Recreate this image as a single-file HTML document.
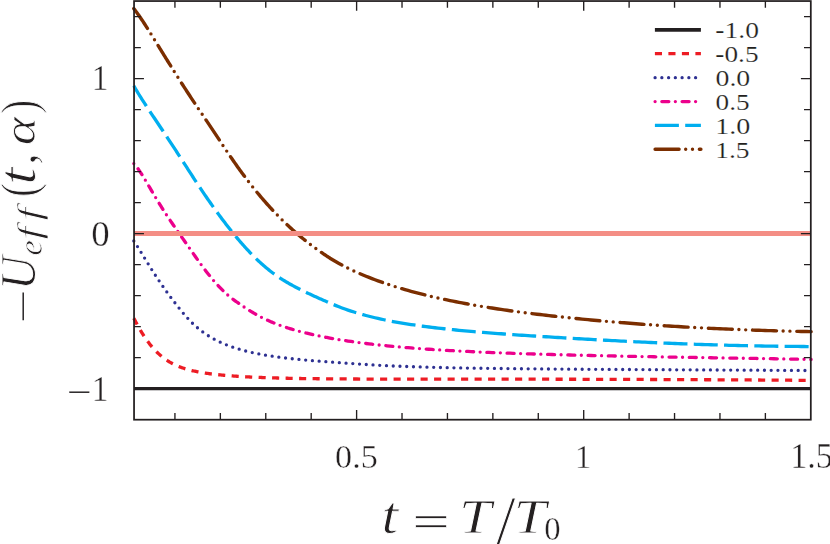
<!DOCTYPE html>
<html lang="en"><head><meta charset="utf-8"><title>U_eff(t, alpha) plot</title>
<style>
html,body{margin:0;padding:0;background:#fff;}
body{width:830px;height:544px;overflow:hidden;}
svg{display:block;}
text{font-family:"Liberation Serif","DejaVu Serif",serif;fill:#231f20;}
.it{font-style:italic;}
</style></head><body>
<svg width="830" height="544" viewBox="0 0 830 544">
<rect x="0" y="0" width="830" height="544" fill="#fff"/>
<defs><clipPath id="plot"><rect x="131.05" y="1.05" width="682.75" height="418.65"/></clipPath></defs>
<g clip-path="url(#plot)" fill="none" stroke-linejoin="round">
<line x1="134.05" y1="388.6" x2="810.8" y2="388.6" stroke="#231f20" stroke-width="3.3"/>
<path d="M133.8 318.15 L134.8 320.10 L135.8 322.01 L136.8 323.89 L137.8 325.71 L138.8 327.50 L139.8 329.24 L140.8 330.93 L141.8 332.58 L142.8 334.19 L143.8 335.74 L144.8 337.26 L145.8 338.72 L146.8 340.14 L147.8 341.52 L148.8 342.85 L149.8 344.14 L150.8 345.38 L151.8 346.59 L152.8 347.75 L153.8 348.87 L154.8 349.95 L155.8 350.99 L156.8 352.00 L157.8 352.97 L158.8 353.90 L159.8 354.81 L160.8 355.67 L161.8 356.51 L162.8 357.31 L163.8 358.08 L164.8 358.82 L165.8 359.54 L166.8 360.22 L167.8 360.88 L168.8 361.50 L169.8 362.11 L170.8 362.68 L171.8 363.23 L172.8 363.76 L173.8 364.27 L174.8 364.75 L175.8 365.21 L176.8 365.66 L177.8 366.09 L178.8 366.49 L179.8 366.89 L180.8 367.26 L181.8 367.63 L182.8 367.97 L183.8 368.31 L184.8 368.63 L185.8 368.93 L186.8 369.23 L187.8 369.51 L188.8 369.79 L189.8 370.05 L190.8 370.31 L191.8 370.55 L192.8 370.79 L193.8 371.01 L194.8 371.23 L195.8 371.44 L196.8 371.64 L197.8 371.84 L198.8 372.03 L199.8 372.21 L200.8 372.39 L201.8 372.56 L202.8 372.72 L203.8 372.88 L204.8 373.04 L205.8 373.19 L206.8 373.33 L207.8 373.47 L208.8 373.61 L209.8 373.74 L210.8 373.86 L211.8 373.99 L212.8 374.11 L213.8 374.23 L214.8 374.34 L215.8 374.45 L216.8 374.56 L217.8 374.66 L218.8 374.76 L219.8 374.86 L220.8 374.96 L221.8 375.05 L222.8 375.15 L223.8 375.24 L224.8 375.33 L225.8 375.41 L226.8 375.50 L227.8 375.58 L228.8 375.66 L229.8 375.74 L230.8 375.81 L231.8 375.89 L232.8 375.96 L233.8 376.03 L234.8 376.10 L235.8 376.17 L236.8 376.24 L237.8 376.31 L238.8 376.37 L239.8 376.43 L240.8 376.49 L241.8 376.55 L242.8 376.61 L243.8 376.67 L244.8 376.73 L245.8 376.78 L246.8 376.83 L247.8 376.89 L248.8 376.94 L249.8 376.99 L250.8 377.04 L251.8 377.08 L252.8 377.13 L253.8 377.18 L254.8 377.22 L255.8 377.27 L256.8 377.31 L257.8 377.35 L258.8 377.39 L259.8 377.43 L260.8 377.47 L261.8 377.51 L262.8 377.55 L263.8 377.58 L264.8 377.62 L265.8 377.66 L266.8 377.69 L267.8 377.72 L268.8 377.76 L269.8 377.79 L270.8 377.82 L271.8 377.85 L272.8 377.88 L273.8 377.91 L274.8 377.94 L275.8 377.97 L276.8 378.00 L277.8 378.02 L278.8 378.05 L279.8 378.08 L280.8 378.10 L281.8 378.13 L282.8 378.15 L283.8 378.18 L284.8 378.20 L285.8 378.22 L286.8 378.24 L287.8 378.27 L288.8 378.29 L289.8 378.31 L290.8 378.33 L291.8 378.35 L292.8 378.37 L293.8 378.39 L294.8 378.41 L295.8 378.42 L296.8 378.44 L297.8 378.46 L298.8 378.48 L299.8 378.49 L300.8 378.51 L301.8 378.53 L302.8 378.54 L303.8 378.56 L304.8 378.57 L305.8 378.59 L306.8 378.60 L307.8 378.62 L308.8 378.63 L309.8 378.64 L310.8 378.66 L311.8 378.67 L312.8 378.68 L313.8 378.69 L314.8 378.71 L315.8 378.72 L316.8 378.73 L317.8 378.74 L318.8 378.75 L319.8 378.76 L320.8 378.77 L321.8 378.78 L322.8 378.79 L323.8 378.80 L324.8 378.81 L325.8 378.82 L326.8 378.83 L327.8 378.84 L328.8 378.85 L329.8 378.86 L330.0 378.86 L333.0 378.88 L336.0 378.90 L339.0 378.93 L342.0 378.95 L345.0 378.96 L348.0 378.98 L351.0 379.00 L354.0 379.01 L357.0 379.02 L360.0 379.03 L363.0 379.05 L366.0 379.06 L369.0 379.07 L372.0 379.07 L375.0 379.08 L378.0 379.09 L381.0 379.10 L384.0 379.10 L387.0 379.11 L390.0 379.11 L393.0 379.12 L396.0 379.12 L399.0 379.13 L402.0 379.13 L405.0 379.13 L408.0 379.14 L411.0 379.14 L414.0 379.14 L417.0 379.14 L420.0 379.14 L423.0 379.15 L426.0 379.15 L429.0 379.15 L432.0 379.15 L435.0 379.15 L438.0 379.15 L441.0 379.15 L444.0 379.15 L447.0 379.15 L450.0 379.16 L453.0 379.16 L456.0 379.16 L459.0 379.16 L462.0 379.16 L465.0 379.16 L468.0 379.16 L471.0 379.16 L474.0 379.16 L477.0 379.16 L480.0 379.16 L483.0 379.17 L486.0 379.17 L489.0 379.17 L492.0 379.17 L495.0 379.17 L498.0 379.17 L501.0 379.17 L504.0 379.18 L507.0 379.18 L510.0 379.18 L513.0 379.18 L516.0 379.19 L519.0 379.19 L522.0 379.19 L525.0 379.19 L528.0 379.20 L531.0 379.20 L534.0 379.20 L537.0 379.21 L540.0 379.21 L543.0 379.22 L546.0 379.22 L549.0 379.22 L552.0 379.23 L555.0 379.23 L558.0 379.24 L561.0 379.24 L564.0 379.25 L567.0 379.25 L570.0 379.26 L573.0 379.27 L576.0 379.27 L579.0 379.28 L582.0 379.28 L585.0 379.29 L588.0 379.30 L591.0 379.31 L594.0 379.31 L597.0 379.32 L600.0 379.33 L603.0 379.34 L606.0 379.34 L609.0 379.35 L612.0 379.36 L615.0 379.37 L618.0 379.38 L621.0 379.39 L624.0 379.40 L627.0 379.41 L630.0 379.42 L633.0 379.43 L636.0 379.44 L639.0 379.45 L642.0 379.46 L645.0 379.47 L648.0 379.48 L651.0 379.49 L654.0 379.50 L657.0 379.51 L660.0 379.53 L663.0 379.54 L666.0 379.55 L669.0 379.56 L672.0 379.57 L675.0 379.59 L678.0 379.60 L681.0 379.61 L684.0 379.63 L687.0 379.64 L690.0 379.65 L693.0 379.67 L696.0 379.68 L699.0 379.70 L702.0 379.71 L705.0 379.73 L708.0 379.74 L711.0 379.76 L714.0 379.77 L717.0 379.79 L720.0 379.80 L723.0 379.82 L726.0 379.83 L729.0 379.85 L732.0 379.87 L735.0 379.88 L738.0 379.90 L741.0 379.92 L744.0 379.94 L747.0 379.95 L750.0 379.97 L753.0 379.99 L756.0 380.01 L759.0 380.02 L762.0 380.04 L765.0 380.06 L768.0 380.08 L771.0 380.10 L774.0 380.12 L777.0 380.14 L780.0 380.16 L783.0 380.17 L786.0 380.19 L789.0 380.21 L792.0 380.23 L795.0 380.25 L798.0 380.27 L801.0 380.30 L804.0 380.32 L807.0 380.34 L810.0 380.36 L811.1 380.37" stroke="#ed1c24" stroke-width="3.3" stroke-dasharray="7.1 6.4" stroke-linecap="butt"/>
<path d="M133.8 240.96 L134.8 242.43 L135.8 243.95 L136.8 245.50 L137.8 247.07 L138.8 248.66 L139.8 250.26 L140.8 251.88 L141.8 253.50 L142.8 255.13 L143.8 256.76 L144.8 258.40 L145.8 260.03 L146.8 261.65 L147.8 263.27 L148.8 264.89 L149.8 266.49 L150.8 268.09 L151.8 269.67 L152.8 271.25 L153.8 272.81 L154.8 274.37 L155.8 275.91 L156.8 277.43 L157.8 278.95 L158.8 280.45 L159.8 281.93 L160.8 283.40 L161.8 284.86 L162.8 286.30 L163.8 287.73 L164.8 289.15 L165.8 290.56 L166.8 291.95 L167.8 293.33 L168.8 294.70 L169.8 296.05 L170.8 297.39 L171.8 298.73 L172.8 300.05 L173.8 301.36 L174.8 302.65 L175.8 303.94 L176.8 305.22 L177.8 306.48 L178.8 307.74 L179.8 308.98 L180.8 310.22 L181.8 311.44 L182.8 312.64 L183.8 313.83 L184.8 315.01 L185.8 316.16 L186.8 317.29 L187.8 318.40 L188.8 319.48 L189.8 320.54 L190.8 321.57 L191.8 322.58 L192.8 323.56 L193.8 324.51 L194.8 325.44 L195.8 326.34 L196.8 327.21 L197.8 328.06 L198.8 328.89 L199.8 329.69 L200.8 330.47 L201.8 331.23 L202.8 331.97 L203.8 332.69 L204.8 333.40 L205.8 334.08 L206.8 334.74 L207.8 335.39 L208.8 336.02 L209.8 336.63 L210.8 337.23 L211.8 337.81 L212.8 338.38 L213.8 338.93 L214.8 339.47 L215.8 339.99 L216.8 340.50 L217.8 341.00 L218.8 341.49 L219.8 341.96 L220.8 342.42 L221.8 342.88 L222.8 343.32 L223.8 343.74 L224.8 344.16 L225.8 344.57 L226.8 344.97 L227.8 345.36 L228.8 345.74 L229.8 346.11 L230.8 346.48 L231.8 346.83 L232.8 347.18 L233.8 347.52 L234.8 347.85 L235.8 348.17 L236.8 348.49 L237.8 348.79 L238.8 349.09 L239.8 349.39 L240.8 349.68 L241.8 349.96 L242.8 350.23 L243.8 350.50 L244.8 350.77 L245.8 351.03 L246.8 351.28 L247.8 351.53 L248.8 351.77 L249.8 352.00 L250.8 352.24 L251.8 352.46 L252.8 352.68 L253.8 352.90 L254.8 353.11 L255.8 353.32 L256.8 353.53 L257.8 353.73 L258.8 353.92 L259.8 354.12 L260.8 354.30 L261.8 354.49 L262.8 354.67 L263.8 354.85 L264.8 355.02 L265.8 355.19 L266.8 355.36 L267.8 355.52 L268.8 355.69 L269.8 355.84 L270.8 356.00 L271.8 356.15 L272.8 356.30 L273.8 356.45 L274.8 356.59 L275.8 356.74 L276.8 356.88 L277.8 357.01 L278.8 357.15 L279.8 357.28 L280.8 357.41 L281.8 357.54 L282.8 357.66 L283.8 357.79 L284.8 357.91 L285.8 358.03 L286.8 358.15 L287.8 358.26 L288.8 358.38 L289.8 358.49 L290.8 358.60 L291.8 358.71 L292.8 358.82 L293.8 358.93 L294.8 359.03 L295.8 359.13 L296.8 359.24 L297.8 359.34 L298.8 359.44 L299.8 359.53 L300.8 359.63 L301.8 359.72 L302.8 359.82 L303.8 359.91 L304.8 360.00 L305.8 360.09 L306.8 360.18 L307.8 360.27 L308.8 360.36 L309.8 360.44 L310.8 360.53 L311.8 360.61 L312.8 360.70 L313.8 360.78 L314.8 360.86 L315.8 360.94 L316.8 361.02 L317.8 361.10 L318.8 361.18 L319.8 361.26 L320.8 361.34 L321.8 361.41 L322.8 361.49 L323.8 361.57 L324.8 361.64 L325.8 361.72 L326.8 361.79 L327.8 361.86 L328.8 361.94 L329.8 362.01 L330.0 362.03 L333.0 362.24 L336.0 362.46 L339.0 362.67 L342.0 362.88 L345.0 363.08 L348.0 363.29 L351.0 363.50 L354.0 363.70 L357.0 363.90 L360.0 364.10 L363.0 364.30 L366.0 364.49 L369.0 364.68 L372.0 364.87 L375.0 365.04 L378.0 365.22 L381.0 365.38 L384.0 365.54 L387.0 365.69 L390.0 365.83 L393.0 365.97 L396.0 366.10 L399.0 366.22 L402.0 366.34 L405.0 366.46 L408.0 366.57 L411.0 366.67 L414.0 366.77 L417.0 366.87 L420.0 366.96 L423.0 367.05 L426.0 367.14 L429.0 367.22 L432.0 367.30 L435.0 367.37 L438.0 367.45 L441.0 367.52 L444.0 367.58 L447.0 367.65 L450.0 367.71 L453.0 367.77 L456.0 367.83 L459.0 367.88 L462.0 367.94 L465.0 367.99 L468.0 368.04 L471.0 368.09 L474.0 368.14 L477.0 368.18 L480.0 368.23 L483.0 368.27 L486.0 368.32 L489.0 368.36 L492.0 368.40 L495.0 368.44 L498.0 368.47 L501.0 368.51 L504.0 368.55 L507.0 368.58 L510.0 368.62 L513.0 368.65 L516.0 368.68 L519.0 368.71 L522.0 368.74 L525.0 368.77 L528.0 368.80 L531.0 368.83 L534.0 368.86 L537.0 368.89 L540.0 368.91 L543.0 368.94 L546.0 368.96 L549.0 368.99 L552.0 369.01 L555.0 369.04 L558.0 369.06 L561.0 369.08 L564.0 369.11 L567.0 369.13 L570.0 369.15 L573.0 369.17 L576.0 369.19 L579.0 369.21 L582.0 369.23 L585.0 369.25 L588.0 369.27 L591.0 369.29 L594.0 369.31 L597.0 369.33 L600.0 369.35 L603.0 369.37 L606.0 369.38 L609.0 369.40 L612.0 369.42 L615.0 369.44 L618.0 369.46 L621.0 369.47 L624.0 369.49 L627.0 369.51 L630.0 369.52 L633.0 369.54 L636.0 369.56 L639.0 369.57 L642.0 369.59 L645.0 369.61 L648.0 369.62 L651.0 369.64 L654.0 369.66 L657.0 369.67 L660.0 369.69 L663.0 369.70 L666.0 369.72 L669.0 369.74 L672.0 369.75 L675.0 369.77 L678.0 369.78 L681.0 369.80 L684.0 369.81 L687.0 369.83 L690.0 369.85 L693.0 369.86 L696.0 369.88 L699.0 369.89 L702.0 369.91 L705.0 369.93 L708.0 369.94 L711.0 369.96 L714.0 369.98 L717.0 369.99 L720.0 370.01 L723.0 370.02 L726.0 370.04 L729.0 370.06 L732.0 370.07 L735.0 370.09 L738.0 370.11 L741.0 370.13 L744.0 370.14 L747.0 370.16 L750.0 370.18 L753.0 370.19 L756.0 370.21 L759.0 370.23 L762.0 370.25 L765.0 370.26 L768.0 370.28 L771.0 370.30 L774.0 370.32 L777.0 370.34 L780.0 370.35 L783.0 370.37 L786.0 370.39 L789.0 370.41 L792.0 370.43 L795.0 370.45 L798.0 370.47 L801.0 370.48 L804.0 370.50 L807.0 370.52 L810.0 370.54 L811.1 370.55" stroke="#2e3192" stroke-width="3.3" stroke-dasharray="0 6.75" stroke-linecap="round"/>
<path d="M133.8 163.57 L134.8 164.65 L135.8 165.83 L136.8 167.10 L137.8 168.44 L138.8 169.86 L139.8 171.32 L140.8 172.84 L141.8 174.40 L142.8 175.99 L143.8 177.61 L144.8 179.25 L145.8 180.91 L146.8 182.59 L147.8 184.27 L148.8 185.97 L149.8 187.66 L150.8 189.36 L151.8 191.05 L152.8 192.75 L153.8 194.44 L154.8 196.12 L155.8 197.79 L156.8 199.45 L157.8 201.10 L158.8 202.74 L159.8 204.37 L160.8 205.99 L161.8 207.59 L162.8 209.17 L163.8 210.74 L164.8 212.29 L165.8 213.83 L166.8 215.35 L167.8 216.86 L168.8 218.36 L169.8 219.84 L170.8 221.32 L171.8 222.79 L172.8 224.25 L173.8 225.70 L174.8 227.15 L175.8 228.59 L176.8 230.03 L177.8 231.46 L178.8 232.90 L179.8 234.33 L180.8 235.76 L181.8 237.18 L182.8 238.61 L183.8 240.04 L184.8 241.47 L185.8 242.90 L186.8 244.32 L187.8 245.76 L188.8 247.19 L189.8 248.62 L190.8 250.06 L191.8 251.50 L192.8 252.93 L193.8 254.36 L194.8 255.79 L195.8 257.21 L196.8 258.63 L197.8 260.04 L198.8 261.43 L199.8 262.82 L200.8 264.20 L201.8 265.56 L202.8 266.92 L203.8 268.26 L204.8 269.58 L205.8 270.89 L206.8 272.18 L207.8 273.46 L208.8 274.72 L209.8 275.97 L210.8 277.20 L211.8 278.40 L212.8 279.59 L213.8 280.77 L214.8 281.92 L215.8 283.05 L216.8 284.16 L217.8 285.26 L218.8 286.33 L219.8 287.38 L220.8 288.41 L221.8 289.42 L222.8 290.41 L223.8 291.38 L224.8 292.33 L225.8 293.25 L226.8 294.16 L227.8 295.04 L228.8 295.90 L229.8 296.74 L230.8 297.55 L231.8 298.35 L232.8 299.12 L233.8 299.87 L234.8 300.60 L235.8 301.31 L236.8 302.01 L237.8 302.71 L238.8 303.40 L239.8 304.08 L240.8 304.77 L241.8 305.45 L242.8 306.13 L243.8 306.80 L244.8 307.47 L245.8 308.13 L246.8 308.78 L247.8 309.43 L248.8 310.06 L249.8 310.69 L250.8 311.31 L251.8 311.92 L252.8 312.51 L253.8 313.10 L254.8 313.68 L255.8 314.25 L256.8 314.81 L257.8 315.36 L258.8 315.90 L259.8 316.43 L260.8 316.95 L261.8 317.47 L262.8 317.97 L263.8 318.47 L264.8 318.95 L265.8 319.43 L266.8 319.90 L267.8 320.36 L268.8 320.81 L269.8 321.25 L270.8 321.68 L271.8 322.11 L272.8 322.53 L273.8 322.94 L274.8 323.34 L275.8 323.73 L276.8 324.12 L277.8 324.50 L278.8 324.88 L279.8 325.24 L280.8 325.60 L281.8 325.96 L282.8 326.31 L283.8 326.65 L284.8 326.99 L285.8 327.32 L286.8 327.64 L287.8 327.96 L288.8 328.28 L289.8 328.59 L290.8 328.89 L291.8 329.19 L292.8 329.49 L293.8 329.78 L294.8 330.06 L295.8 330.34 L296.8 330.62 L297.8 330.90 L298.8 331.17 L299.8 331.43 L300.8 331.69 L301.8 331.95 L302.8 332.21 L303.8 332.46 L304.8 332.71 L305.8 332.95 L306.8 333.20 L307.8 333.43 L308.8 333.67 L309.8 333.90 L310.8 334.13 L311.8 334.36 L312.8 334.59 L313.8 334.81 L314.8 335.03 L315.8 335.25 L316.8 335.46 L317.8 335.67 L318.8 335.88 L319.8 336.09 L320.8 336.29 L321.8 336.49 L322.8 336.69 L323.8 336.89 L324.8 337.09 L325.8 337.28 L326.8 337.47 L327.8 337.66 L328.8 337.84 L329.8 338.03 L330.0 338.07 L333.0 338.61 L336.0 339.13 L339.0 339.64 L342.0 340.12 L345.0 340.59 L348.0 341.05 L351.0 341.49 L354.0 341.91 L357.0 342.33 L360.0 342.72 L363.0 343.11 L366.0 343.49 L369.0 343.85 L372.0 344.20 L375.0 344.54 L378.0 344.88 L381.0 345.20 L384.0 345.51 L387.0 345.81 L390.0 346.11 L393.0 346.39 L396.0 346.67 L399.0 346.94 L402.0 347.20 L405.0 347.45 L408.0 347.70 L411.0 347.94 L414.0 348.17 L417.0 348.40 L420.0 348.62 L423.0 348.84 L426.0 349.05 L429.0 349.25 L432.0 349.45 L435.0 349.64 L438.0 349.83 L441.0 350.02 L444.0 350.19 L447.0 350.37 L450.0 350.54 L453.0 350.70 L456.0 350.87 L459.0 351.02 L462.0 351.18 L465.0 351.33 L468.0 351.47 L471.0 351.62 L474.0 351.76 L477.0 351.90 L480.0 352.03 L483.0 352.16 L486.0 352.29 L489.0 352.41 L492.0 352.53 L495.0 352.65 L498.0 352.77 L501.0 352.89 L504.0 353.00 L507.0 353.11 L510.0 353.21 L513.0 353.32 L516.0 353.42 L519.0 353.52 L522.0 353.62 L525.0 353.72 L528.0 353.82 L531.0 353.91 L534.0 354.00 L537.0 354.09 L540.0 354.18 L543.0 354.27 L546.0 354.36 L549.0 354.44 L552.0 354.52 L555.0 354.60 L558.0 354.68 L561.0 354.76 L564.0 354.84 L567.0 354.92 L570.0 354.99 L573.0 355.07 L576.0 355.14 L579.0 355.21 L582.0 355.28 L585.0 355.35 L588.0 355.42 L591.0 355.49 L594.0 355.56 L597.0 355.62 L600.0 355.69 L603.0 355.75 L606.0 355.82 L609.0 355.88 L612.0 355.94 L615.0 356.00 L618.0 356.07 L621.0 356.13 L624.0 356.19 L627.0 356.25 L630.0 356.30 L633.0 356.36 L636.0 356.42 L639.0 356.48 L642.0 356.53 L645.0 356.59 L648.0 356.65 L651.0 356.70 L654.0 356.76 L657.0 356.81 L660.0 356.87 L663.0 356.92 L666.0 356.97 L669.0 357.03 L672.0 357.08 L675.0 357.13 L678.0 357.18 L681.0 357.23 L684.0 357.29 L687.0 357.34 L690.0 357.39 L693.0 357.44 L696.0 357.49 L699.0 357.54 L702.0 357.59 L705.0 357.64 L708.0 357.69 L711.0 357.74 L714.0 357.79 L717.0 357.84 L720.0 357.89 L723.0 357.94 L726.0 357.99 L729.0 358.04 L732.0 358.09 L735.0 358.13 L738.0 358.18 L741.0 358.23 L744.0 358.28 L747.0 358.33 L750.0 358.38 L753.0 358.42 L756.0 358.47 L759.0 358.52 L762.0 358.57 L765.0 358.62 L768.0 358.67 L771.0 358.71 L774.0 358.76 L777.0 358.81 L780.0 358.86 L783.0 358.91 L786.0 358.96 L789.0 359.00 L792.0 359.05 L795.0 359.10 L798.0 359.15 L801.0 359.20 L804.0 359.25 L807.0 359.29 L810.0 359.34 L811.1 359.36" stroke="#ec008c" stroke-width="3.3" stroke-dasharray="0 6.75 7 6.5" stroke-linecap="round"/>
<path d="M133.8 85.71 L134.8 87.50 L135.8 89.24 L136.8 90.95 L137.8 92.62 L138.8 94.26 L139.8 95.88 L140.8 97.48 L141.8 99.06 L142.8 100.63 L143.8 102.18 L144.8 103.72 L145.8 105.25 L146.8 106.77 L147.8 108.29 L148.8 109.80 L149.8 111.30 L150.8 112.80 L151.8 114.30 L152.8 115.80 L153.8 117.29 L154.8 118.78 L155.8 120.28 L156.8 121.77 L157.8 123.26 L158.8 124.76 L159.8 126.26 L160.8 127.75 L161.8 129.25 L162.8 130.75 L163.8 132.25 L164.8 133.76 L165.8 135.27 L166.8 136.77 L167.8 138.29 L168.8 139.80 L169.8 141.32 L170.8 142.84 L171.8 144.36 L172.8 145.88 L173.8 147.41 L174.8 148.94 L175.8 150.47 L176.8 152.00 L177.8 153.54 L178.8 155.08 L179.8 156.62 L180.8 158.17 L181.8 159.72 L182.8 161.27 L183.8 162.82 L184.8 164.37 L185.8 165.93 L186.8 167.48 L187.8 169.03 L188.8 170.58 L189.8 172.13 L190.8 173.67 L191.8 175.22 L192.8 176.75 L193.8 178.29 L194.8 179.82 L195.8 181.35 L196.8 182.87 L197.8 184.38 L198.8 185.89 L199.8 187.40 L200.8 188.90 L201.8 190.39 L202.8 191.87 L203.8 193.35 L204.8 194.82 L205.8 196.29 L206.8 197.75 L207.8 199.20 L208.8 200.64 L209.8 202.07 L210.8 203.50 L211.8 204.92 L212.8 206.33 L213.8 207.73 L214.8 209.13 L215.8 210.52 L216.8 211.89 L217.8 213.26 L218.8 214.63 L219.8 215.98 L220.8 217.32 L221.8 218.66 L222.8 219.99 L223.8 221.31 L224.8 222.62 L225.8 223.92 L226.8 225.21 L227.8 226.49 L228.8 227.77 L229.8 229.04 L230.8 230.29 L231.8 231.54 L232.8 232.78 L233.8 234.02 L234.8 235.24 L235.8 236.45 L236.8 237.65 L237.8 238.85 L238.8 240.03 L239.8 241.20 L240.8 242.36 L241.8 243.51 L242.8 244.65 L243.8 245.78 L244.8 246.89 L245.8 247.99 L246.8 249.09 L247.8 250.16 L248.8 251.23 L249.8 252.29 L250.8 253.33 L251.8 254.36 L252.8 255.38 L253.8 256.38 L254.8 257.37 L255.8 258.35 L256.8 259.32 L257.8 260.27 L258.8 261.21 L259.8 262.13 L260.8 263.05 L261.8 263.95 L262.8 264.83 L263.8 265.71 L264.8 266.57 L265.8 267.41 L266.8 268.25 L267.8 269.07 L268.8 269.87 L269.8 270.67 L270.8 271.45 L271.8 272.21 L272.8 272.96 L273.8 273.70 L274.8 274.43 L275.8 275.14 L276.8 275.84 L277.8 276.53 L278.8 277.20 L279.8 277.87 L280.8 278.52 L281.8 279.16 L282.8 279.79 L283.8 280.41 L284.8 281.02 L285.8 281.63 L286.8 282.22 L287.8 282.80 L288.8 283.38 L289.8 283.95 L290.8 284.51 L291.8 285.06 L292.8 285.61 L293.8 286.15 L294.8 286.69 L295.8 287.21 L296.8 287.74 L297.8 288.25 L298.8 288.76 L299.8 289.27 L300.8 289.77 L301.8 290.27 L302.8 290.76 L303.8 291.25 L304.8 291.73 L305.8 292.21 L306.8 292.69 L307.8 293.16 L308.8 293.63 L309.8 294.10 L310.8 294.57 L311.8 295.03 L312.8 295.49 L313.8 295.95 L314.8 296.40 L315.8 296.86 L316.8 297.31 L317.8 297.76 L318.8 298.20 L319.8 298.65 L320.8 299.09 L321.8 299.53 L322.8 299.97 L323.8 300.41 L324.8 300.85 L325.8 301.28 L326.8 301.71 L327.8 302.14 L328.8 302.57 L329.8 303.00 L330.0 303.10 L333.0 304.37 L336.0 305.60 L339.0 306.79 L342.0 307.93 L345.0 309.02 L348.0 310.07 L351.0 311.07 L354.0 312.03 L357.0 312.95 L360.0 313.83 L363.0 314.68 L366.0 315.49 L369.0 316.27 L372.0 317.02 L375.0 317.74 L378.0 318.44 L381.0 319.10 L384.0 319.74 L387.0 320.36 L390.0 320.95 L393.0 321.52 L396.0 322.07 L399.0 322.60 L402.0 323.11 L405.0 323.61 L408.0 324.08 L411.0 324.54 L414.0 324.99 L417.0 325.42 L420.0 325.84 L423.0 326.24 L426.0 326.63 L429.0 327.01 L432.0 327.38 L435.0 327.74 L438.0 328.08 L441.0 328.42 L444.0 328.75 L447.0 329.07 L450.0 329.38 L453.0 329.69 L456.0 329.99 L459.0 330.28 L462.0 330.56 L465.0 330.84 L468.0 331.11 L471.0 331.38 L474.0 331.64 L477.0 331.89 L480.0 332.14 L483.0 332.39 L486.0 332.63 L489.0 332.87 L492.0 333.10 L495.0 333.33 L498.0 333.55 L501.0 333.77 L504.0 333.99 L507.0 334.21 L510.0 334.42 L513.0 334.63 L516.0 334.83 L519.0 335.04 L522.0 335.24 L525.0 335.44 L528.0 335.63 L531.0 335.83 L534.0 336.02 L537.0 336.21 L540.0 336.40 L543.0 336.59 L546.0 336.77 L549.0 336.95 L552.0 337.14 L555.0 337.32 L558.0 337.50 L561.0 337.68 L564.0 337.86 L567.0 338.03 L570.0 338.21 L573.0 338.38 L576.0 338.56 L579.0 338.73 L582.0 338.91 L585.0 339.08 L588.0 339.25 L591.0 339.42 L594.0 339.59 L597.0 339.75 L600.0 339.92 L603.0 340.08 L606.0 340.24 L609.0 340.41 L612.0 340.57 L615.0 340.72 L618.0 340.88 L621.0 341.04 L624.0 341.19 L627.0 341.34 L630.0 341.49 L633.0 341.64 L636.0 341.78 L639.0 341.93 L642.0 342.07 L645.0 342.21 L648.0 342.35 L651.0 342.48 L654.0 342.62 L657.0 342.75 L660.0 342.88 L663.0 343.01 L666.0 343.14 L669.0 343.26 L672.0 343.38 L675.0 343.50 L678.0 343.62 L681.0 343.74 L684.0 343.85 L687.0 343.96 L690.0 344.07 L693.0 344.18 L696.0 344.28 L699.0 344.38 L702.0 344.48 L705.0 344.58 L708.0 344.68 L711.0 344.77 L714.0 344.86 L717.0 344.95 L720.0 345.03 L723.0 345.12 L726.0 345.20 L729.0 345.28 L732.0 345.36 L735.0 345.43 L738.0 345.50 L741.0 345.57 L744.0 345.64 L747.0 345.71 L750.0 345.77 L753.0 345.83 L756.0 345.89 L759.0 345.95 L762.0 346.00 L765.0 346.05 L768.0 346.10 L771.0 346.15 L774.0 346.19 L777.0 346.24 L780.0 346.28 L783.0 346.31 L786.0 346.35 L789.0 346.38 L792.0 346.41 L795.0 346.44 L798.0 346.47 L801.0 346.49 L804.0 346.51 L807.0 346.53 L810.0 346.55 L811.1 346.55" stroke="#00aeef" stroke-width="3.3" stroke-dasharray="24 6.3" stroke-linecap="butt"/>
<path d="M133.8 8.59 L134.8 9.85 L135.8 11.16 L136.8 12.50 L137.8 13.88 L138.8 15.29 L139.8 16.73 L140.8 18.19 L141.8 19.68 L142.8 21.18 L143.8 22.71 L144.8 24.24 L145.8 25.80 L146.8 27.36 L147.8 28.94 L148.8 30.52 L149.8 32.11 L150.8 33.71 L151.8 35.32 L152.8 36.93 L153.8 38.54 L154.8 40.16 L155.8 41.78 L156.8 43.41 L157.8 45.03 L158.8 46.66 L159.8 48.28 L160.8 49.91 L161.8 51.53 L162.8 53.16 L163.8 54.78 L164.8 56.40 L165.8 58.02 L166.8 59.64 L167.8 61.25 L168.8 62.86 L169.8 64.47 L170.8 66.08 L171.8 67.68 L172.8 69.28 L173.8 70.87 L174.8 72.46 L175.8 74.05 L176.8 75.63 L177.8 77.21 L178.8 78.78 L179.8 80.35 L180.8 81.92 L181.8 83.48 L182.8 85.04 L183.8 86.59 L184.8 88.13 L185.8 89.67 L186.8 91.21 L187.8 92.74 L188.8 94.27 L189.8 95.79 L190.8 97.31 L191.8 98.82 L192.8 100.33 L193.8 101.83 L194.8 103.33 L195.8 104.82 L196.8 106.31 L197.8 107.79 L198.8 109.28 L199.8 110.76 L200.8 112.24 L201.8 113.72 L202.8 115.20 L203.8 116.68 L204.8 118.17 L205.8 119.65 L206.8 121.13 L207.8 122.62 L208.8 124.11 L209.8 125.60 L210.8 127.10 L211.8 128.60 L212.8 130.10 L213.8 131.61 L214.8 133.12 L215.8 134.63 L216.8 136.15 L217.8 137.66 L218.8 139.18 L219.8 140.69 L220.8 142.21 L221.8 143.72 L222.8 145.22 L223.8 146.73 L224.8 148.23 L225.8 149.73 L226.8 151.22 L227.8 152.70 L228.8 154.18 L229.8 155.65 L230.8 157.12 L231.8 158.58 L232.8 160.02 L233.8 161.47 L234.8 162.90 L235.8 164.32 L236.8 165.74 L237.8 167.14 L238.8 168.54 L239.8 169.93 L240.8 171.30 L241.8 172.67 L242.8 174.03 L243.8 175.38 L244.8 176.72 L245.8 178.04 L246.8 179.36 L247.8 180.67 L248.8 181.97 L249.8 183.27 L250.8 184.55 L251.8 185.82 L252.8 187.08 L253.8 188.33 L254.8 189.58 L255.8 190.81 L256.8 192.03 L257.8 193.25 L258.8 194.45 L259.8 195.65 L260.8 196.83 L261.8 198.01 L262.8 199.17 L263.8 200.33 L264.8 201.48 L265.8 202.62 L266.8 203.75 L267.8 204.87 L268.8 205.98 L269.8 207.08 L270.8 208.17 L271.8 209.25 L272.8 210.33 L273.8 211.39 L274.8 212.45 L275.8 213.49 L276.8 214.53 L277.8 215.56 L278.8 216.58 L279.8 217.59 L280.8 218.59 L281.8 219.59 L282.8 220.57 L283.8 221.55 L284.8 222.51 L285.8 223.47 L286.8 224.42 L287.8 225.36 L288.8 226.29 L289.8 227.22 L290.8 228.13 L291.8 229.04 L292.8 229.94 L293.8 230.83 L294.8 231.71 L295.8 232.59 L296.8 233.46 L297.8 234.31 L298.8 235.16 L299.8 236.01 L300.8 236.84 L301.8 237.66 L302.8 238.48 L303.8 239.29 L304.8 240.10 L305.8 240.89 L306.8 241.68 L307.8 242.46 L308.8 243.23 L309.8 243.99 L310.8 244.75 L311.8 245.50 L312.8 246.24 L313.8 246.98 L314.8 247.71 L315.8 248.44 L316.8 249.16 L317.8 249.87 L318.8 250.59 L319.8 251.29 L320.8 252.00 L321.8 252.69 L322.8 253.39 L323.8 254.08 L324.8 254.76 L325.8 255.43 L326.8 256.10 L327.8 256.76 L328.8 257.41 L329.8 258.05 L330.0 258.21 L333.0 260.06 L336.0 261.83 L339.0 263.53 L342.0 265.15 L345.0 266.71 L348.0 268.21 L351.0 269.65 L354.0 271.04 L357.0 272.40 L360.0 273.71 L363.0 274.98 L366.0 276.22 L369.0 277.42 L372.0 278.59 L375.0 279.73 L378.0 280.84 L381.0 281.92 L384.0 282.97 L387.0 283.99 L390.0 284.99 L393.0 285.96 L396.0 286.91 L399.0 287.83 L402.0 288.73 L405.0 289.61 L408.0 290.47 L411.0 291.31 L414.0 292.12 L417.0 292.92 L420.0 293.70 L423.0 294.46 L426.0 295.20 L429.0 295.92 L432.0 296.63 L435.0 297.33 L438.0 298.00 L441.0 298.67 L444.0 299.32 L447.0 299.95 L450.0 300.57 L453.0 301.18 L456.0 301.77 L459.0 302.36 L462.0 302.93 L465.0 303.49 L468.0 304.03 L471.0 304.57 L474.0 305.10 L477.0 305.61 L480.0 306.12 L483.0 306.62 L486.0 307.10 L489.0 307.58 L492.0 308.05 L495.0 308.51 L498.0 308.97 L501.0 309.41 L504.0 309.85 L507.0 310.28 L510.0 310.70 L513.0 311.11 L516.0 311.52 L519.0 311.92 L522.0 312.32 L525.0 312.70 L528.0 313.09 L531.0 313.46 L534.0 313.83 L537.0 314.20 L540.0 314.55 L543.0 314.91 L546.0 315.26 L549.0 315.60 L552.0 315.94 L555.0 316.27 L558.0 316.60 L561.0 316.92 L564.0 317.24 L567.0 317.56 L570.0 317.87 L573.0 318.18 L576.0 318.48 L579.0 318.78 L582.0 319.08 L585.0 319.37 L588.0 319.66 L591.0 319.94 L594.0 320.22 L597.0 320.50 L600.0 320.77 L603.0 321.04 L606.0 321.30 L609.0 321.56 L612.0 321.82 L615.0 322.07 L618.0 322.32 L621.0 322.57 L624.0 322.81 L627.0 323.05 L630.0 323.28 L633.0 323.52 L636.0 323.74 L639.0 323.97 L642.0 324.19 L645.0 324.41 L648.0 324.62 L651.0 324.83 L654.0 325.04 L657.0 325.24 L660.0 325.44 L663.0 325.64 L666.0 325.83 L669.0 326.02 L672.0 326.21 L675.0 326.39 L678.0 326.57 L681.0 326.75 L684.0 326.93 L687.0 327.10 L690.0 327.26 L693.0 327.43 L696.0 327.59 L699.0 327.75 L702.0 327.90 L705.0 328.06 L708.0 328.20 L711.0 328.35 L714.0 328.49 L717.0 328.63 L720.0 328.77 L723.0 328.90 L726.0 329.04 L729.0 329.16 L732.0 329.29 L735.0 329.41 L738.0 329.53 L741.0 329.65 L744.0 329.76 L747.0 329.88 L750.0 329.98 L753.0 330.09 L756.0 330.19 L759.0 330.29 L762.0 330.39 L765.0 330.49 L768.0 330.58 L771.0 330.67 L774.0 330.76 L777.0 330.84 L780.0 330.92 L783.0 331.00 L786.0 331.08 L789.0 331.15 L792.0 331.23 L795.0 331.30 L798.0 331.36 L801.0 331.43 L804.0 331.49 L807.0 331.55 L810.0 331.61 L811.1 331.63" stroke="#7b2e00" stroke-width="3.4" stroke-dasharray="24 6.6 0 6.8 0 6.85" stroke-linecap="round"/>
</g>
<line x1="134.05" y1="233.55" x2="810.8" y2="233.55" stroke="#f48e85" stroke-width="5.1"/>
<g stroke="#231f20" fill="none">
<rect x="134.05" y="1.05" width="676.75" height="418.65" stroke-width="1.75"/>
<path d="M174.93 419.7 v-6.8 M174.93 1.05 v6.8 M220.35 419.7 v-6.8 M220.35 1.05 v6.8 M265.77 419.7 v-6.8 M265.77 1.05 v6.8 M311.19 419.7 v-6.8 M311.19 1.05 v6.8 M356.61 419.7 v-9.8 M356.61 1.05 v9.8 M402.02 419.7 v-6.8 M402.02 1.05 v6.8 M447.44 419.7 v-6.8 M447.44 1.05 v6.8 M492.86 419.7 v-6.8 M492.86 1.05 v6.8 M538.28 419.7 v-6.8 M538.28 1.05 v6.8 M583.70 419.7 v-9.8 M583.70 1.05 v9.8 M629.12 419.7 v-6.8 M629.12 1.05 v6.8 M674.54 419.7 v-6.8 M674.54 1.05 v6.8 M719.96 419.7 v-6.8 M719.96 1.05 v6.8 M765.38 419.7 v-6.8 M765.38 1.05 v6.8 M134.05 388.69 h9.9 M810.8 388.69 h-9.9 M134.05 357.68 h6.8 M810.8 357.68 h-6.8 M134.05 326.67 h6.8 M810.8 326.67 h-6.8 M134.05 295.66 h6.8 M810.8 295.66 h-6.8 M134.05 264.65 h6.8 M810.8 264.65 h-6.8 M134.05 233.64 h9.9 M810.8 233.64 h-9.9 M134.05 202.63 h6.8 M810.8 202.63 h-6.8 M134.05 171.62 h6.8 M810.8 171.62 h-6.8 M134.05 140.61 h6.8 M810.8 140.61 h-6.8 M134.05 109.60 h6.8 M810.8 109.60 h-6.8 M134.05 78.59 h9.9 M810.8 78.59 h-9.9 M134.05 47.58 h6.8 M810.8 47.58 h-6.8 M134.05 16.57 h6.8 M810.8 16.57 h-6.8" stroke-width="1.35"/>
</g>
<g opacity="0.995">
<text transform="translate(335.06 468.27) scale(1.0073 1)" font-size="33.90" stroke="#fff" stroke-width="0.35" vector-effect="non-scaling-stroke" stroke-linejoin="round">0.5</text>
<text transform="translate(574.91 468.07) scale(0.9378 1)" font-size="34.58" stroke="#fff" stroke-width="0.35" vector-effect="non-scaling-stroke" stroke-linejoin="round">1</text>
<text transform="translate(790.14 468.25) scale(0.9825 1)" font-size="34.85" stroke="#fff" stroke-width="0.35" vector-effect="non-scaling-stroke" stroke-linejoin="round">1.5</text>
<text transform="translate(91.63 90.47) scale(0.9500 1)" font-size="35.04" stroke="#fff" stroke-width="0.35" vector-effect="non-scaling-stroke" stroke-linejoin="round">1</text>
<text transform="translate(91.25 245.82) scale(1.0499 1)" font-size="35.04" stroke="#fff" stroke-width="0.35" vector-effect="non-scaling-stroke" stroke-linejoin="round">0</text>
<text transform="translate(67.17 401.90) scale(1.4552 1)" font-size="30.00" stroke="#fff" stroke-width="0.1" vector-effect="non-scaling-stroke" stroke-linejoin="round">−</text>
<text transform="translate(91.63 400.78) scale(0.9459 1)" font-size="35.19" stroke="#fff" stroke-width="0.35" vector-effect="non-scaling-stroke" stroke-linejoin="round">1</text>
<text transform="translate(381.45 532.72) scale(1.1325 1)" font-size="52.98" font-style="italic" stroke="#fff" stroke-width="0.9" vector-effect="non-scaling-stroke" stroke-linejoin="round">t</text>
<text transform="translate(412.17 535.58) scale(1.4881 1)" font-size="44.80" stroke="#fff" stroke-width="0.6" vector-effect="non-scaling-stroke" stroke-linejoin="round">=</text>
<text transform="translate(459.04 532.75) scale(1.1967 1)" font-size="48.92" font-style="italic" stroke="#fff" stroke-width="0.9" vector-effect="non-scaling-stroke" stroke-linejoin="round">T</text>
<text transform="translate(495.95 543.55) scale(1.0046 1)" font-size="70.23" stroke="#fff" stroke-width="0.9" vector-effect="non-scaling-stroke" stroke-linejoin="round">/</text>
<text transform="translate(513.76 532.75) scale(1.1930 1)" font-size="48.92" font-style="italic" stroke="#fff" stroke-width="0.9" vector-effect="non-scaling-stroke" stroke-linejoin="round">T</text>
<text transform="translate(544.32 540.05) scale(0.9977 1)" font-size="32.81" stroke="#fff" stroke-width="0.35" vector-effect="non-scaling-stroke" stroke-linejoin="round">0</text>
<text transform="translate(34.7 0) rotate(-90) translate(-322.67 -2.00) scale(1.9785 1)" font-size="30.00">−</text>
<text transform="translate(34.7 0) rotate(-90) translate(-289.91 0.74) scale(0.9270 1)" font-size="50.61" font-style="italic" stroke="#fff" stroke-width="0.9" vector-effect="non-scaling-stroke" stroke-linejoin="round">U</text>
<text transform="translate(34.7 0) rotate(-90) translate(-255.81 7.52) scale(1.0818 1)" font-size="32.71" font-style="italic" stroke="#fff" stroke-width="0.9" vector-effect="non-scaling-stroke" stroke-linejoin="round">e</text>
<text transform="translate(34.7 0) rotate(-90) translate(-239.51 6.44) scale(1.3420 1)" font-size="34.32" font-style="italic" stroke="#fff" stroke-width="0.9" vector-effect="non-scaling-stroke" stroke-linejoin="round">f</text>
<text transform="translate(34.7 0) rotate(-90) translate(-220.51 6.44) scale(1.3420 1)" font-size="34.32" font-style="italic" stroke="#fff" stroke-width="0.9" vector-effect="non-scaling-stroke" stroke-linejoin="round">f</text>
<text transform="translate(34.7 0) rotate(-90) translate(-197.10 1.22) scale(0.7987 1)" font-size="51.56" stroke="#fff" stroke-width="0.9" vector-effect="non-scaling-stroke" stroke-linejoin="round">(</text>
<text transform="translate(34.7 0) rotate(-90) translate(-184.86 0.71) scale(1.1624 1)" font-size="53.68" font-style="italic" stroke="#fff" stroke-width="0.9" vector-effect="non-scaling-stroke" stroke-linejoin="round">t</text>
<text transform="translate(34.7 0) rotate(-90) translate(-164.70 0.76) scale(0.9134 1)" font-size="50.59" stroke="#fff" stroke-width="0.9" vector-effect="non-scaling-stroke" stroke-linejoin="round">,</text>
<text transform="translate(34.7 0) rotate(-90) translate(-145.16 0.77) scale(1.1311 1)" font-size="47.50" font-style="italic" stroke="#fff" stroke-width="0.9" vector-effect="non-scaling-stroke" stroke-linejoin="round">α</text>
<text transform="translate(34.7 0) rotate(-90) translate(-113.50 1.22) scale(0.8057 1)" font-size="51.56" stroke="#fff" stroke-width="0.9" vector-effect="non-scaling-stroke" stroke-linejoin="round">)</text>
</g>
<g fill="none">
<line x1="654.9" y1="29.8" x2="700.9" y2="29.8" stroke="#231f20" stroke-width="3.8" stroke-linecap="butt"/>
<line x1="654.9" y1="53.7" x2="700.9" y2="53.7" stroke="#ed1c24" stroke-width="3.3" stroke-linecap="butt" stroke-dasharray="7.1 6.4"/>
<line x1="655.1" y1="77.7" x2="700.9" y2="77.7" stroke="#2e3192" stroke-width="3.3" stroke-linecap="round" stroke-dasharray="0 6.75"/>
<line x1="655.1" y1="101.6" x2="700.9" y2="101.6" stroke="#ec008c" stroke-width="3.3" stroke-linecap="round" stroke-dasharray="0 6.75 7 6.5"/>
<line x1="654.9" y1="125.4" x2="700.9" y2="125.4" stroke="#00aeef" stroke-width="3.3" stroke-linecap="butt" stroke-dasharray="24 6.3"/>
<line x1="655.1" y1="149.3" x2="700.9" y2="149.3" stroke="#7b2e00" stroke-width="3.4" stroke-linecap="round" stroke-dasharray="24 6.6 0 6.8 0 6.85"/>
</g>
<g opacity="0.995">
<text transform="translate(715.34 38.15) scale(1.1709 1)" font-size="23.53" stroke="#fff" stroke-width="0.2" vector-effect="non-scaling-stroke" stroke-linejoin="round">-1.0</text>
<text transform="translate(715.35 62.05) scale(1.1596 1)" font-size="23.53" stroke="#fff" stroke-width="0.2" vector-effect="non-scaling-stroke" stroke-linejoin="round">-0.5</text>
<text transform="translate(715.49 85.95) scale(1.1842 1)" font-size="23.53" stroke="#fff" stroke-width="0.2" vector-effect="non-scaling-stroke" stroke-linejoin="round">0.0</text>
<text transform="translate(715.51 109.85) scale(1.1588 1)" font-size="23.53" stroke="#fff" stroke-width="0.2" vector-effect="non-scaling-stroke" stroke-linejoin="round">0.5</text>
<text transform="translate(715.17 133.75) scale(1.1953 1)" font-size="23.53" stroke="#fff" stroke-width="0.2" vector-effect="non-scaling-stroke" stroke-linejoin="round">1.0</text>
<text transform="translate(715.22 157.64) scale(1.1516 1)" font-size="23.88" stroke="#fff" stroke-width="0.2" vector-effect="non-scaling-stroke" stroke-linejoin="round">1.5</text>
</g>
</svg>
</body></html>
